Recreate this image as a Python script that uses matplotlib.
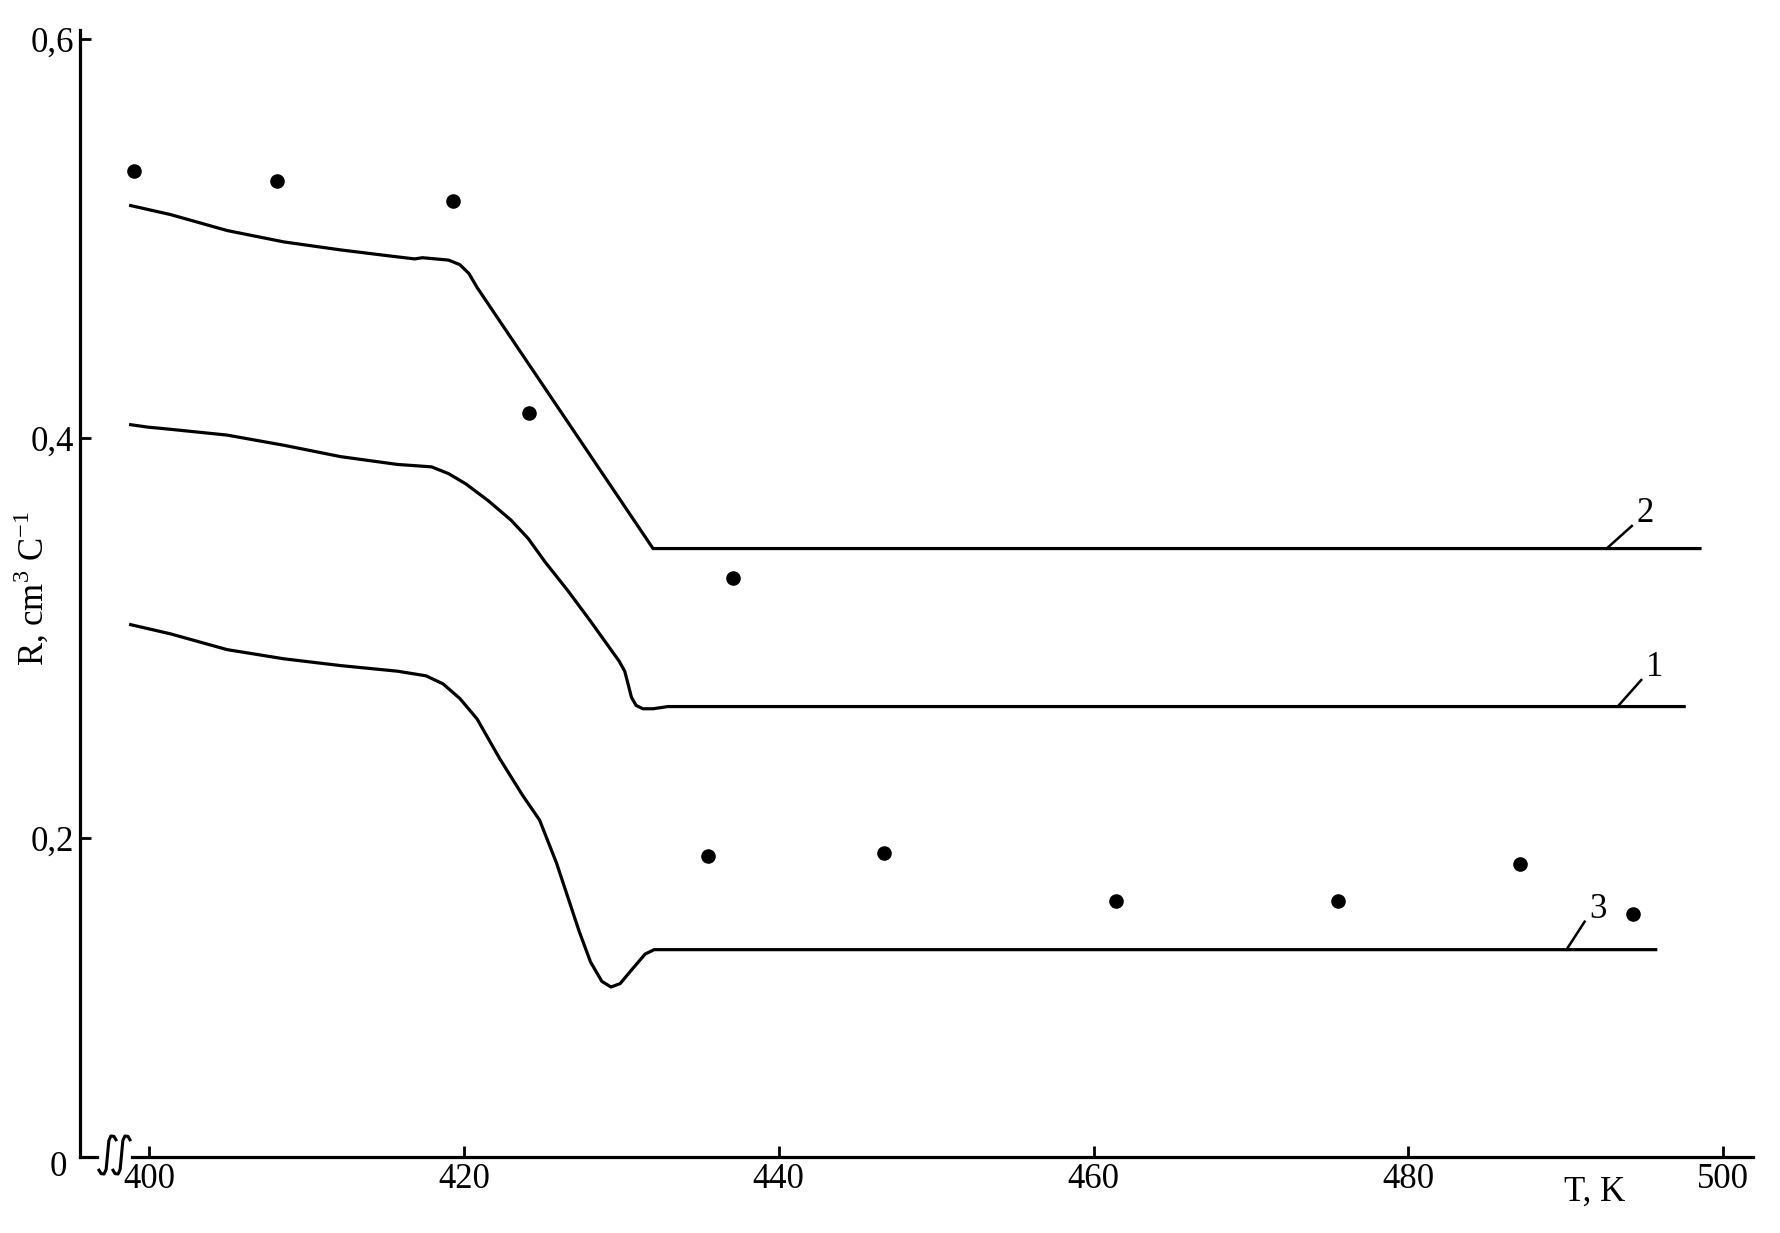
import matplotlib.pyplot as plt
import numpy as np

plt.rcParams['font.family'] = ['Liberation Serif', 'DejaVu Serif']
plt.rcParams['mathtext.fontset'] = 'custom'
plt.rcParams['mathtext.rm'] = 'Liberation Serif'

# experimental points
dotT = [399.0, 408.1, 419.3, 424.15, 437.1, 435.5, 446.7, 461.4, 475.5, 487.1, 494.3]
dotR = [0.5337, 0.5291, 0.5189, 0.4126, 0.3301, 0.1908, 0.1925, 0.1686, 0.1686, 0.1868, 0.1618]

# curve 1
c1T = [398.82, 399.90, 401.35, 404.95, 408.56, 412.17, 415.78, 417.94, 419.02, 420.11, 421.55,
       422.99, 424.07, 425.16, 426.60, 428.04, 429.85, 430.21, 430.42, 430.64, 430.93, 431.36,
       432.01, 432.95, 497.53]
c1R = [0.4069, 0.4057, 0.4046, 0.4017, 0.3966, 0.3909, 0.3870, 0.3858, 0.3824, 0.3773, 0.3688,
       0.3591, 0.3500, 0.3381, 0.3238, 0.3085, 0.2886, 0.2835, 0.2772, 0.2704, 0.2664, 0.2647,
       0.2647, 0.2658, 0.2658]

# curve 2
c2T = [398.82, 401.35, 404.95, 408.56, 412.17, 415.05, 416.86, 417.36, 419.02, 419.74, 420.32,
       420.83, 432.01, 498.53]
c2R = [0.5166, 0.5121, 0.5041, 0.4984, 0.4944, 0.4916, 0.4899, 0.4905, 0.4893, 0.4870, 0.4825,
       0.4756, 0.3449, 0.3449]

# curve 3
c3T = [398.82, 401.35, 404.95, 408.56, 412.17, 415.78, 417.58, 418.66, 419.74, 420.83, 422.27,
       423.71, 424.80, 425.88, 426.60, 427.32, 428.04, 428.76, 429.34, 429.92, 430.64, 431.51,
       432.08, 495.72]
c3R = [0.3068, 0.3022, 0.2943, 0.2897, 0.2863, 0.2835, 0.2812, 0.2772, 0.2698, 0.2596, 0.2397,
       0.2215, 0.2090, 0.1874, 0.1703, 0.1532, 0.1379, 0.1282, 0.1254, 0.1271, 0.1339, 0.1419,
       0.1441, 0.1441]

# curve labels: (text, leader start T, R, leader end T, R)
labels = [('1', 493.3, 0.2658, 494.8, 0.2791),
          ('2', 492.6, 0.3449, 494.2, 0.3562),
          ('3', 490.05, 0.1441, 491.2, 0.1581)]

xticks = [400, 420, 440, 460, 480, 500]
yticks = [0.2, 0.4, 0.6]
yticklabels = ['0,2', '0,4', '0,6']

W, H = 1781, 1233
fig = plt.figure(figsize=(W / 100, H / 100), dpi=100)
ax = fig.add_axes([80 / W, 1 - 1157 / H, (1753 - 80) / W, (1157 - 30) / H])

lw = 2.3
for T, R in [(c1T, c1R), (c2T, c2R), (c3T, c3R)]:
    ax.plot(T, R, color='black', lw=lw, solid_joinstyle='round')
ax.plot(dotT, dotR, 'o', color='black', markersize=10.5, markeredgewidth=0)

for txt, t0, r0, t1, r1 in labels:
    ax.plot([t0, t1], [r0, r1], color='black', lw=1.8)
    ax.text(t1 + 0.3, r1 - 0.002, txt, fontsize=25, ha='left', va='bottom')

ax.set_xlim(395.6, 501.9)
ax.set_ylim(0.0403, 0.6045)
ax.set_xticks(xticks)
ax.set_xticklabels([str(x) for x in xticks])
ax.set_yticks(yticks)
ax.set_yticklabels(yticklabels)
ax.tick_params(direction='in', length=8, width=2, labelsize=25, pad=4)

ax.spines['top'].set_visible(False)
ax.spines['right'].set_visible(False)
ax.spines['bottom'].set_visible(False)
ax.spines['left'].set_linewidth(2.3)

# bottom axis with a break near the origin
ax.plot([0, 17 / 1673], [0, 0], transform=ax.transAxes, color='black', lw=2.3, clip_on=False)
ax.plot([52 / 1673, 1], [0, 0], transform=ax.transAxes, color='black', lw=2.3, clip_on=False)
su = np.array([0.0, 0.12, 0.3, 0.42, 0.5, 0.58, 0.7, 0.88, 1.0])
sv = np.array([0.1, 0.01, 0.0, 0.12, 0.5, 0.88, 1.0, 0.99, 0.9])
for x0 in [99, 113]:
    px = x0 + su * 17
    py = 1174 - sv * 38
    ax.plot(px / W, 1 - py / H, transform=fig.transFigure, color='black', lw=2.2, clip_on=False)

ax.text(-22 / 1673, -11 / 1127, '0', transform=ax.transAxes, fontsize=25, ha='center', va='center')

fig.text(1595 / W, 1 - 1192 / H, 'T, K', fontsize=25, ha='center', va='center')
fig.text(32 / W, 1 - 588 / H, r'R, cm$^{3}$ C$^{-1}$', fontsize=25, ha='center', va='center', rotation=90)

plt.savefig('out.png', dpi=100)
